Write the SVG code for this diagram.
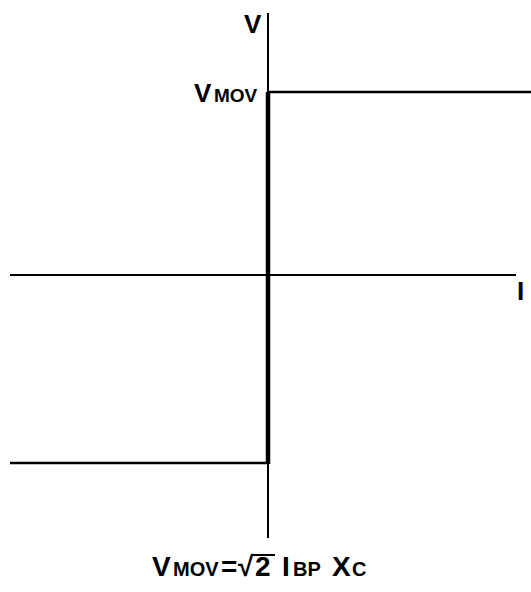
<svg xmlns="http://www.w3.org/2000/svg" width="531" height="592" viewBox="0 0 531 592">
<style>
.t{font-family:"Liberation Sans",Arial,sans-serif;font-weight:bold;fill:#000}
.big{font-size:26px}
.sm{font-size:19px}
.fb{font-size:28px}
.fs{font-size:20px}
.ax{stroke:#000;stroke-width:2;fill:none}
.cv{stroke:#000;stroke-width:2.5;fill:none}
</style>
<rect width="531" height="592" fill="#fff"/>
<g id="axes">
<line class="ax" x1="268" y1="13" x2="268" y2="538"/>
<line class="ax" x1="10" y1="275" x2="516" y2="275"/>
</g>
<g id="connectors">
<line x1="268" y1="92" x2="268" y2="464" stroke="#000" stroke-width="4.5"/>
<line class="cv" x1="268" y1="92" x2="531" y2="92"/>
<line class="cv" x1="10" y1="463" x2="268" y2="463"/>
</g>
<g id="label-V"><text class="t big" x="244" y="33">V</text></g>
<g id="label-VMOV"><text class="t" x="194" y="102"><tspan class="big">V</tspan><tspan class="sm" x="214">MOV</tspan></text></g>
<g id="label-I"><text class="t big" x="517" y="300">I</text></g>
<g id="formula">
<text class="t" x="152" y="576"><tspan class="fb">V</tspan><tspan class="fs" x="173">MOV</tspan><tspan class="fb" x="221">=</tspan><tspan class="fb" x="238">√</tspan><tspan class="fb" x="255">2</tspan><tspan class="fb" x="282">I</tspan><tspan class="fs" x="293">BP</tspan><tspan class="fb" x="332">X</tspan><tspan class="fs" x="352">C</tspan></text>
<line x1="252" y1="555" x2="275" y2="555" stroke="#000" stroke-width="2"/>
</g>
</svg>
